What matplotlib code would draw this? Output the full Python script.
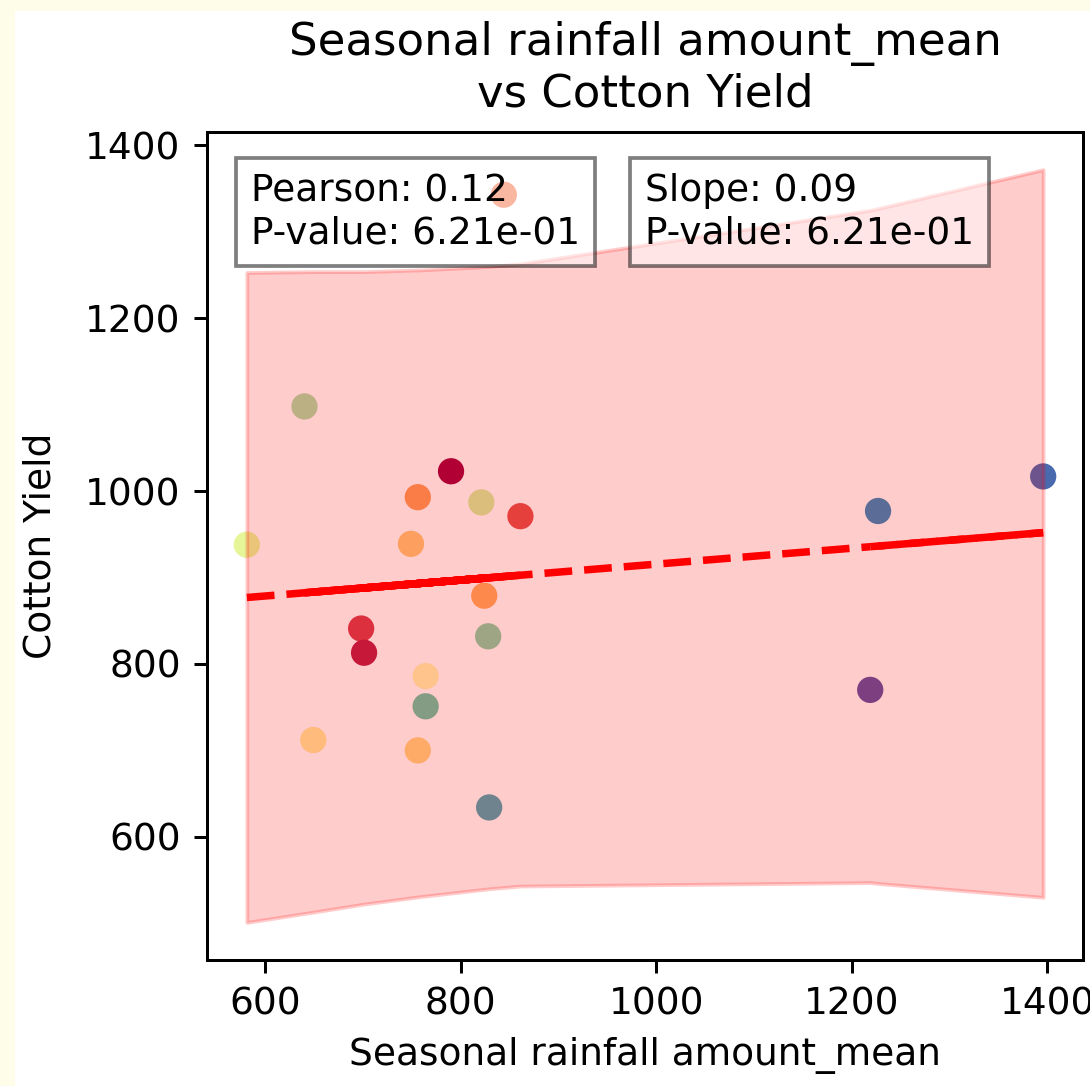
import numpy as np
import matplotlib
matplotlib.use("Agg")
import matplotlib.pyplot as plt
from matplotlib.patches import Rectangle
from matplotlib.collections import LineCollection

# data, in plotting order
rain = [581, 861, 640, 844, 649, 829, 698, 828, 701, 824,
        749, 821, 756, 790, 756, 764, 764, 1219, 1396, 1227]
yield_ = [938, 971, 1098, 1343, 712, 634, 841, 832, 813, 879,
          939, 987, 993, 1023, 700, 786, 751, 770, 1017, 977]
hue = [0.60, 0.14, 0.70, 0.20, 0.43, 0.85, 0.10, 0.75, 0.05, 0.30,
       0.35, 0.63, 0.27, 0.00, 0.38, 0.47, 0.80, 1.00, 0.95, 0.90]

# fit
slope = 0.0921
intercept = 823.4

# band edges
band_x = [581, 650, 700, 760, 830, 861, 1219, 1227, 1396]
band_lo = [501, 513, 522, 531, 540, 543, 547, 546, 530]
band_hi = [1253, 1254, 1254, 1256, 1260, 1263, 1325, 1327, 1372]

pearson_txt = "Pearson: 0.12\nP-value: 6.21e-01"
slope_txt = "Slope: 0.09\nP-value: 6.21e-01"

W, H, DPI = 1091, 1086, 270
fig = plt.figure(figsize=(W / DPI, H / DPI), dpi=DPI, facecolor="#fdfdea")
fig.patches.append(Rectangle((15 / W, 0), 1 - 15 / W, 1 - 11 / H,
                             transform=fig.transFigure, facecolor="white",
                             edgecolor="none", zorder=-1))
ax = fig.add_axes([207 / W, 1 - 960 / H, 876 / W, 828 / H])

x = np.array(rain)
y = np.array(yield_)

ax.scatter(x, y, c=hue, cmap="Spectral", vmin=0, vmax=1, s=36)
ax.fill_between(band_x, band_lo, band_hi, color="red", alpha=0.2)

# fit line through the points in data order (overlapping dashes)
pts = np.column_stack([x, intercept + slope * x])
segs = np.stack([pts[:-1], pts[1:]], axis=1)
ax.add_collection(LineCollection(segs, colors="red", linestyles="--",
                                 linewidths=2, zorder=2))

box = dict(facecolor="white", alpha=0.5)
ax.text(0.05, 0.95, pearson_txt, transform=ax.transAxes, va="top",
        fontsize=10, bbox=box)
ax.text(0.5, 0.95, slope_txt, transform=ax.transAxes, va="top",
        fontsize=10, bbox=box)

ax.set_title("Seasonal rainfall amount_mean\nvs Cotton Yield", fontsize=12, pad=6.8)
ax.set_xlabel("Seasonal rainfall amount_mean")
ax.set_ylabel("Cotton Yield", labelpad=7.2)
ax.set_xticks([600, 800, 1000, 1200, 1400])
ax.set_yticks([600, 800, 1000, 1200, 1400])

fig.savefig("out.png", dpi=DPI, facecolor=fig.get_facecolor())
